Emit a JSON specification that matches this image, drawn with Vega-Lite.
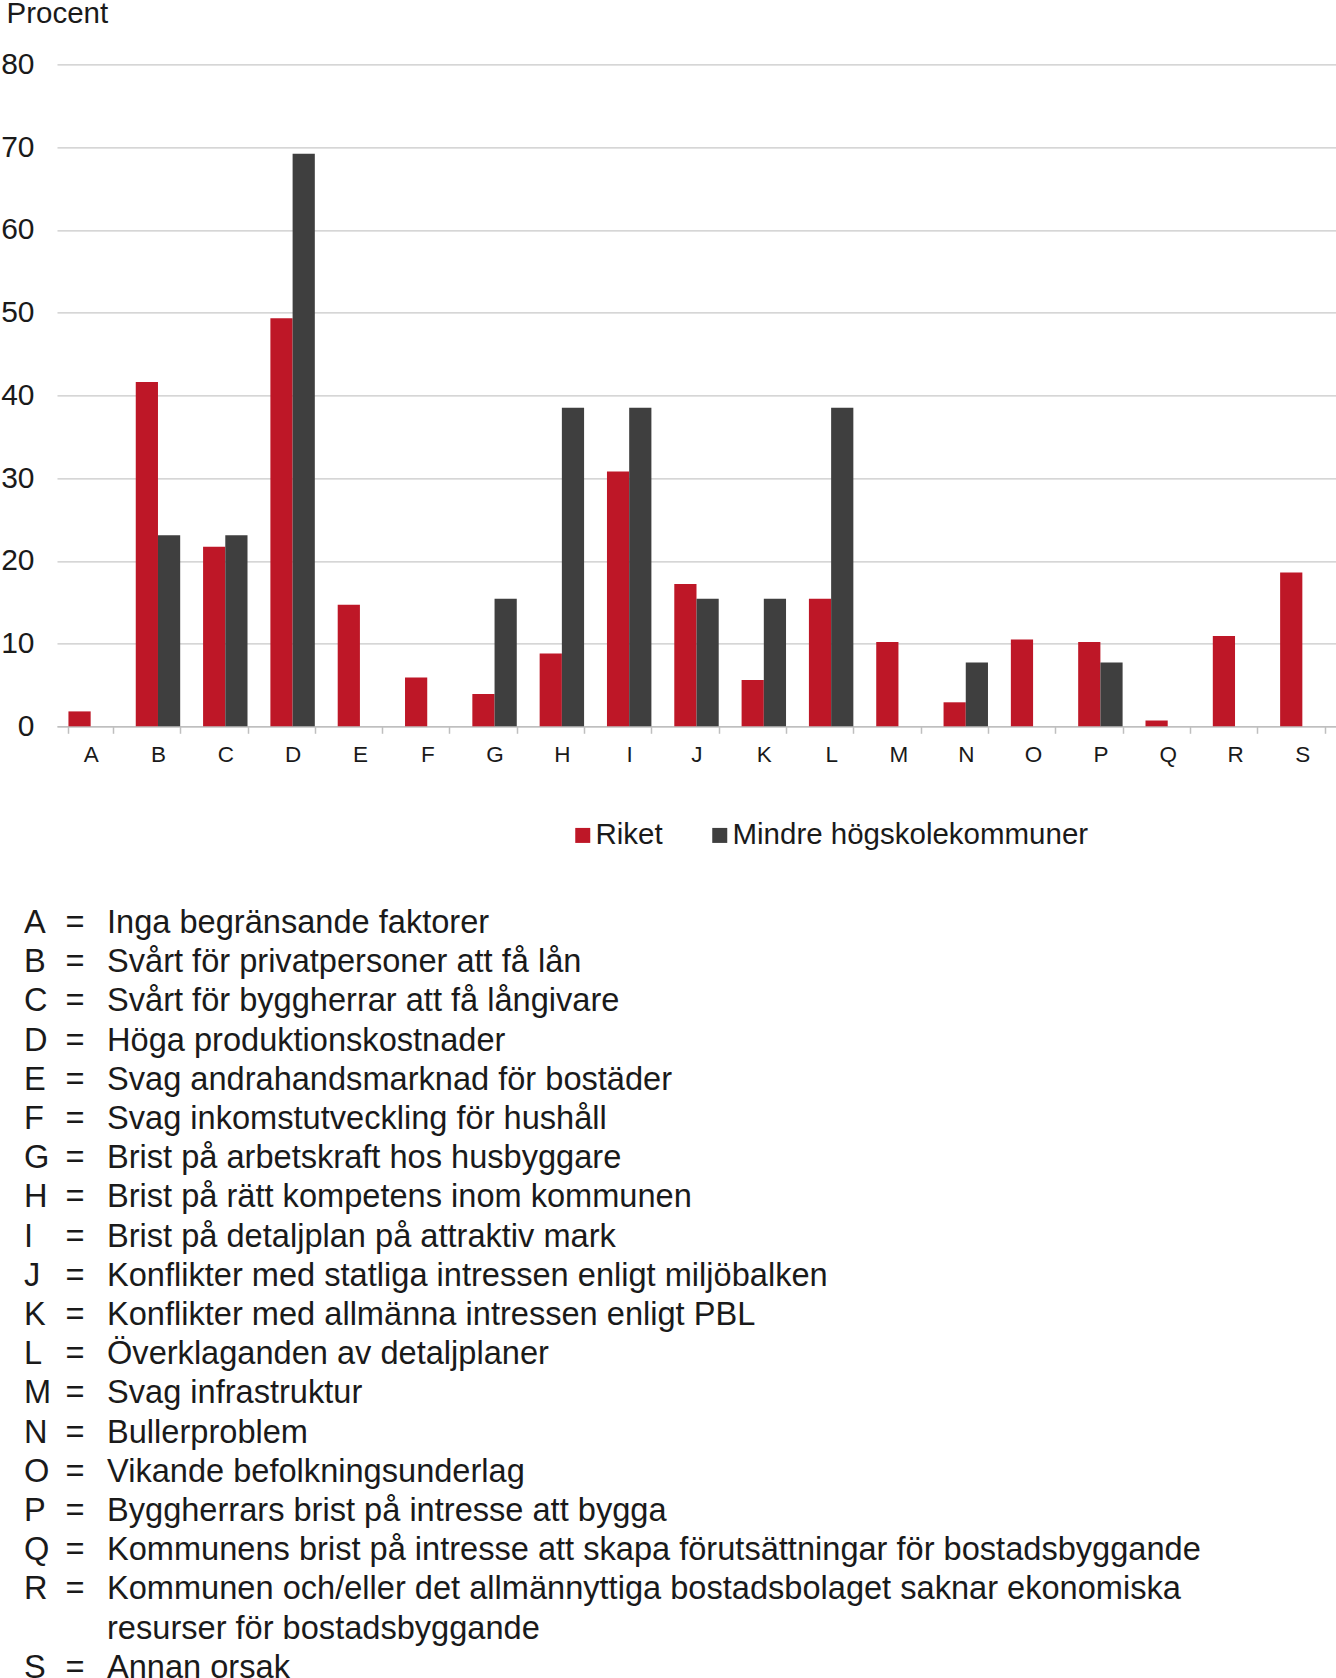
{
  "$schema": "https://vega.github.io/schema/vega-lite/v6.json",
  "background": "white",
  "padding": {"left": 0, "top": -1.7, "right": 0, "bottom": 0},
  "bounds": "flush",
  "spacing": 206.7,
  "config": {
    "font": "Liberation Sans",
    "view": {"stroke": null},
    "axis": {"labelFont": "Liberation Sans", "titleFont": "Liberation Sans"},
    "legend": {"labelFont": "Liberation Sans"}
  },
  "datasets": {
    "bars": [
      {"cat": "A", "series": "Riket", "value": 1.8},
      {"cat": "B", "series": "Riket", "value": 41.6},
      {"cat": "C", "series": "Riket", "value": 21.7},
      {"cat": "D", "series": "Riket", "value": 49.3},
      {"cat": "E", "series": "Riket", "value": 14.7},
      {"cat": "F", "series": "Riket", "value": 5.9},
      {"cat": "G", "series": "Riket", "value": 3.9},
      {"cat": "H", "series": "Riket", "value": 8.8},
      {"cat": "I", "series": "Riket", "value": 30.8},
      {"cat": "J", "series": "Riket", "value": 17.2},
      {"cat": "K", "series": "Riket", "value": 5.6},
      {"cat": "L", "series": "Riket", "value": 15.4},
      {"cat": "M", "series": "Riket", "value": 10.2},
      {"cat": "N", "series": "Riket", "value": 2.9},
      {"cat": "O", "series": "Riket", "value": 10.5},
      {"cat": "P", "series": "Riket", "value": 10.2},
      {"cat": "Q", "series": "Riket", "value": 0.7},
      {"cat": "R", "series": "Riket", "value": 10.9},
      {"cat": "S", "series": "Riket", "value": 18.6},
      {"cat": "B", "series": "Mindre högskolekommuner", "value": 23.1},
      {"cat": "C", "series": "Mindre högskolekommuner", "value": 23.1},
      {"cat": "D", "series": "Mindre högskolekommuner", "value": 69.2},
      {"cat": "G", "series": "Mindre högskolekommuner", "value": 15.4},
      {"cat": "H", "series": "Mindre högskolekommuner", "value": 38.5},
      {"cat": "I", "series": "Mindre högskolekommuner", "value": 38.5},
      {"cat": "J", "series": "Mindre högskolekommuner", "value": 15.4},
      {"cat": "K", "series": "Mindre högskolekommuner", "value": 15.4},
      {"cat": "L", "series": "Mindre högskolekommuner", "value": 38.5},
      {"cat": "N", "series": "Mindre högskolekommuner", "value": 7.7},
      {"cat": "P", "series": "Mindre högskolekommuner", "value": 7.7}
    ],
    "list": [
      {"letter": "A", "eq": "=", "desc": "Inga begränsande faktorer"},
      {"letter": "B", "eq": "=", "desc": "Svårt för privatpersoner att få lån"},
      {"letter": "C", "eq": "=", "desc": "Svårt för byggherrar att få långivare"},
      {"letter": "D", "eq": "=", "desc": "Höga produktionskostnader"},
      {"letter": "E", "eq": "=", "desc": "Svag andrahandsmarknad för bostäder"},
      {"letter": "F", "eq": "=", "desc": "Svag inkomstutveckling för hushåll"},
      {"letter": "G", "eq": "=", "desc": "Brist på arbetskraft hos husbyggare"},
      {"letter": "H", "eq": "=", "desc": "Brist på rätt kompetens inom kommunen"},
      {"letter": "I", "eq": "=", "desc": "Brist på detaljplan på attraktiv mark"},
      {"letter": "J", "eq": "=", "desc": "Konflikter med statliga intressen enligt miljöbalken"},
      {"letter": "K", "eq": "=", "desc": "Konflikter med allmänna intressen enligt PBL"},
      {"letter": "L", "eq": "=", "desc": "Överklaganden av detaljplaner"},
      {"letter": "M", "eq": "=", "desc": "Svag infrastruktur"},
      {"letter": "N", "eq": "=", "desc": "Bullerproblem"},
      {"letter": "O", "eq": "=", "desc": "Vikande befolkningsunderlag"},
      {"letter": "P", "eq": "=", "desc": "Byggherrars brist på intresse att bygga"},
      {"letter": "Q", "eq": "=", "desc": "Kommunens brist på intresse att skapa förutsättningar för bostadsbyggande"},
      {"letter": "R", "eq": "=", "desc": "Kommunen och/eller det allmännyttiga bostadsbolaget saknar ekonomiska\nresurser för bostadsbyggande"},
      {"letter": "S", "eq": "=", "desc": "Annan orsak"}
    ]
  },
  "resolve": {"legend": {"color": "independent"}},
  "vconcat": [
    {
      "width": 1279,
      "height": 662,
      "data": {"name": "bars"},
      "mark": {"type": "bar"},
      "encoding": {
        "x": {
          "field": "cat",
          "type": "nominal",
          "scale": {"paddingInner": 0.34, "paddingOuter": 0.17},
          "axis": {
            "title": null,
            "labelAngle": 0,
            "labelFontSize": 22.5,
            "labelColor": "#1a1a1a",
            "labelPadding": 10,
            "tickBand": "extent",
            "tickSize": 7,
            "tickWidth": 1.5,
            "tickColor": "#bfbfbf",
            "domainColor": "#bfbfbf",
            "domainWidth": 1.5,
            "grid": false
          }
        },
        "xOffset": {
          "field": "series",
          "type": "nominal",
          "sort": ["Riket", "Mindre högskolekommuner"],
          "scale": {"paddingInner": 0, "paddingOuter": 0}
        },
        "y": {
          "field": "value",
          "type": "quantitative",
          "scale": {"domain": [0, 80], "nice": false},
          "axis": {
            "title": "Procent",
            "titleAngle": 0,
            "titleAlign": "left",
            "titleBaseline": "alphabetic",
            "titleX": -51,
            "titleY": -42,
            "titleFontSize": 29.5,
            "titleFontWeight": "normal",
            "titleColor": "#1a1a1a",
            "values": [0, 10, 20, 30, 40, 50, 60, 70, 80],
            "labelFontSize": 30,
            "labelColor": "#1a1a1a",
            "labelPadding": 23,
            "ticks": false,
            "domain": false,
            "gridColor": "#c8c8c8",
            "gridWidth": 1.3
          }
        },
        "color": {
          "field": "series",
          "type": "nominal",
          "scale": {
            "domain": ["Riket", "Mindre högskolekommuner"],
            "range": ["#be1727", "#3f3f3f"]
          },
          "legend": {
            "title": null,
            "orient": "none",
            "direction": "horizontal",
            "legendX": 511,
            "legendY": 756,
            "symbolType": "square",
            "symbolSize": 225,
            "symbolStrokeWidth": 0,
            "labelFontSize": 29.5,
            "labelColor": "#1a1a1a",
            "labelOffset": -2,
            "labelLimit": 600,
            "columnPadding": 42
          }
        }
      }
    },
    {
      "width": 1279,
      "height": 744.8,
      "data": {"name": "list"},
      "transform": [{"fold": ["letter", "eq", "desc"], "as": ["col", "txt"]}],
      "mark": {
        "type": "text",
        "align": "left",
        "baseline": "alphabetic",
        "fontSize": 32.6,
        "font": "Liberation Sans",
        "color": "#1a1a1a",
        "lineBreak": "\n",
        "lineHeight": 39.2
      },
      "encoding": {
        "x": {
          "field": "col",
          "type": "nominal",
          "scale": {"type": "point", "domain": ["letter", "eq", "desc"], "range": [-33, 50], "padding": 0},
          "axis": null
        },
        "y": {
          "field": "letter",
          "type": "ordinal",
          "scale": {
            "type": "point",
            "domain": ["A", "B", "C", "D", "E", "F", "G", "H", "I", "J", "K", "L", "M", "N", "O", "P", "Q", "R", "R2", "S"],
            "padding": 0
          },
          "axis": null
        },
        "text": {"field": "txt"}
      }
    }
  ]
}
